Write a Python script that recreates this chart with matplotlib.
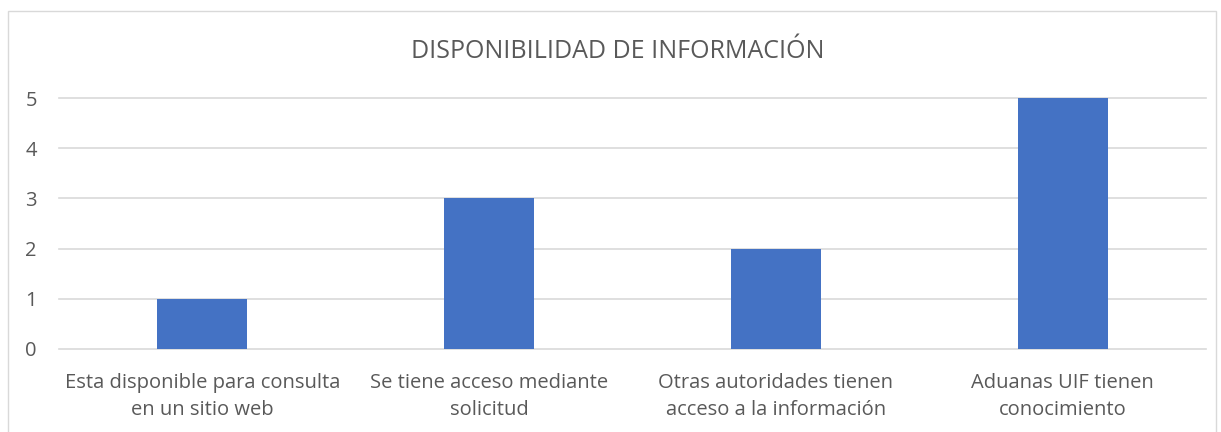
import matplotlib.pyplot as plt
from matplotlib.patches import Rectangle

categories = [
    "Esta disponible para consulta\nen un sitio web",
    "Se tiene acceso mediante\nsolicitud",
    "Otras autoridades tienen\nacceso a la información",
    "Aduanas UIF tienen\nconocimiento",
]
values = [1, 3, 2, 5]
y_ticks = [0, 1, 2, 3, 4, 5]

plt.rcParams["font.family"] = ["Open Sans", "DejaVu Sans"]
text_color = "#595959"
grid_color = "#d9d9d9"

fig = plt.figure(figsize=(12.21, 4.32), dpi=100)
# chart frame like the Excel chart border
fig.patches.append(Rectangle((8 / 1221, -0.05), 1208 / 1221, 1.05 - 11 / 432,
                             transform=fig.transFigure, fill=False,
                             edgecolor=grid_color, linewidth=1))

ax = fig.add_axes([59 / 1221, 1 - 349 / 432, (1206 - 59) / 1221, (349 - 98) / 432])
x = list(range(len(categories)))
ax.bar(x, values, width=0.314, color="#4472C4", zorder=3)
ax.set_xlim(-0.5, len(categories) - 0.5)
ax.set_ylim(0, 5)

for t in y_ticks:
    ax.axhline(t, color=grid_color, linewidth=1.2, zorder=1, clip_on=False)

for s in ax.spines.values():
    s.set_visible(False)
ax.set_yticks(y_ticks)
ax.set_xticks(x)
ax.set_xticklabels(categories, linespacing=1.5)
ax.tick_params(axis="both", length=0, colors=text_color, labelsize=14.5)
ax.tick_params(axis="y", pad=16)
ax.tick_params(axis="x", pad=17)

fig.text(0.506, 1 - 51 / 432, "DISPONIBILIDAD DE INFORMACIÓN", ha="center", va="center",
         fontsize=18, color=text_color)

fig.savefig("out.png", dpi=100)
